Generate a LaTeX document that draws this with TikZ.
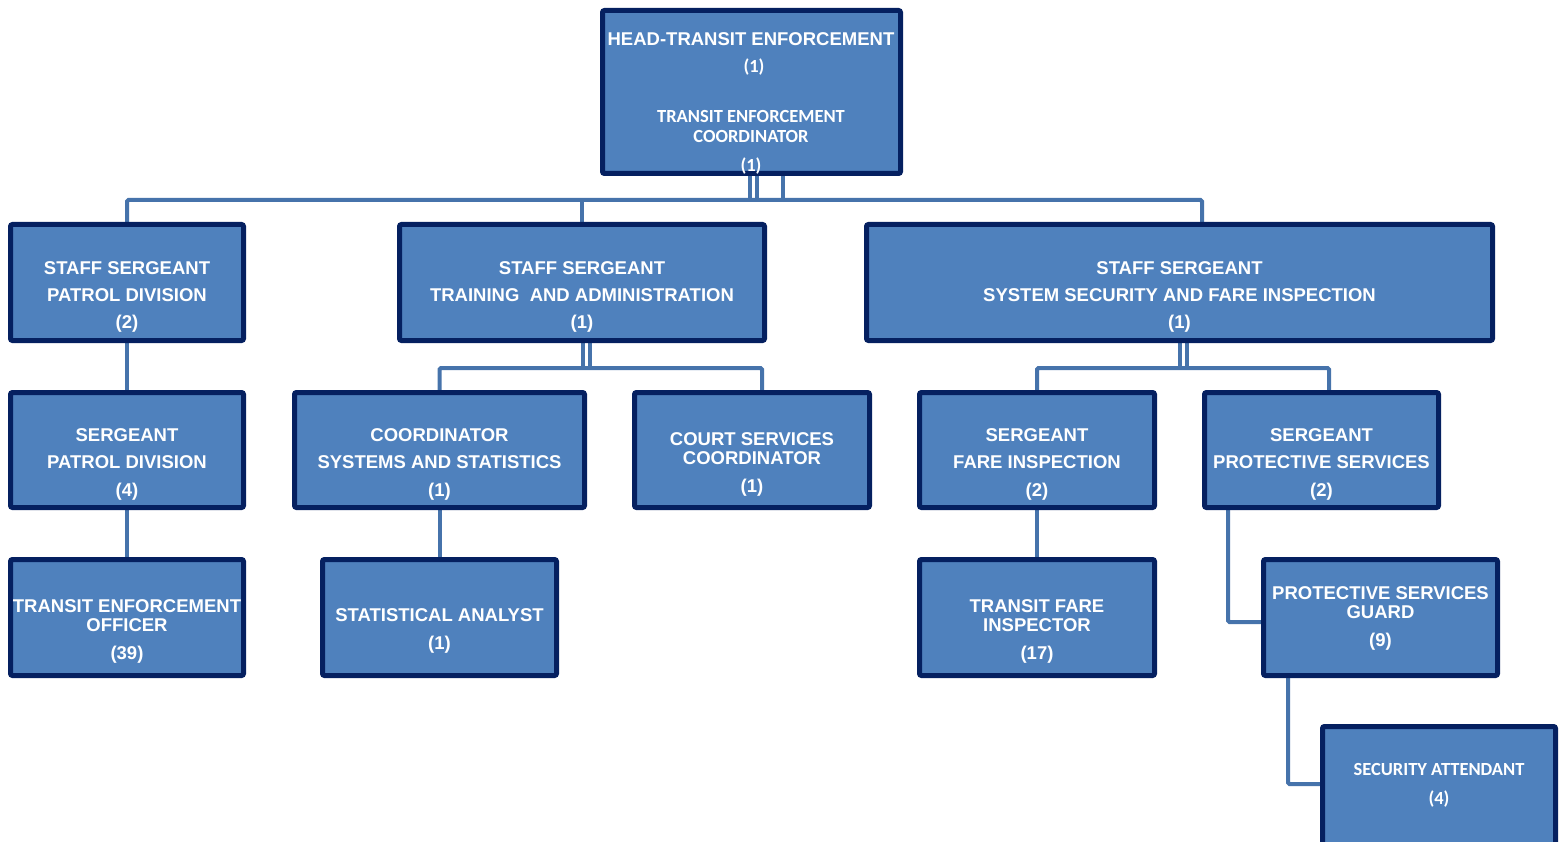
\documentclass[tikz,border=0pt]{standalone}
\usepackage{fontspec}
\newfontfamily\arialfont{Liberation Sans}
\newfontfamily\califont{Carlito}
\usetikzlibrary{backgrounds}
\definecolor{boxfill}{HTML}{4F81BD}
\definecolor{boxline}{HTML}{052060}
\definecolor{connc}{HTML}{4673AB}
\tikzset{
  obox/.style={draw=boxline, fill=boxfill, line width=5pt, rounded corners=2pt, inner sep=0pt},
  txt/.style={anchor=base, inner sep=0pt, text=white, font=\fontsize{18.5}{20}\selectfont\bfseries},
  conn/.style={draw=connc, line width=4pt, rounded corners=1.5pt},
}
\newcommand\obox[5]{\node[obox, minimum width={(#4-#2-5)*1pt}, minimum height={(#5-#3-5)*1pt}] (#1) at ({(#2+#4)/2},{(#3+#5)/2}) {};}
\newcommand\tla[4]{\node[txt] (#1) at (#2,#3+6.6) {\arialfont\bfseries #4};}
\newcommand\tlc[4]{\node[txt] (#1) at (#2,#3+6.0) {\califont\bfseries #4};}
\begin{document}
\begin{tikzpicture}[x=1pt,y=-1pt]
\useasboundingbox (0,0) rectangle (1562,842);
% boxes
\obox{head}{600}{8}{903}{176}
\obox{ssp}{8}{222}{246}{343}
\obox{sst}{397}{222}{767}{343}
\obox{sss}{864}{222}{1495}{343}
\obox{sp}{8}{390}{246}{510}
\obox{css}{292}{390}{587}{510}
\obox{court}{632}{390}{872}{510}
\obox{sfi}{917}{390}{1157}{510}
\obox{sps}{1202}{390}{1441}{510}
\obox{teo}{8}{557}{246}{678}
\obox{stat}{320}{557}{559}{678}
\obox{tfi}{917}{557}{1157}{678}
\obox{psg}{1261}{557}{1500}{678}
\obox{sat}{1320}{724}{1558}{870}
% connectors
\coordinate (hA) at (750,200);
\coordinate (hB) at (757,200);
\coordinate (hC) at (783,200);
\coordinate (sysdrop) at (1202,200);
\coordinate (tA) at (583,368);
\coordinate (tB) at (590,368);
\coordinate (courtdrop) at (762,368);
\coordinate (sA) at (1180,368);
\coordinate (sB) at (1187,368);
\coordinate (psdrop) at (1329,368);
\coordinate (pA) at (1228,622);
\coordinate (gA) at (1288,784);
\begin{pgfonlayer}{background}
\draw[conn] (hA |- head.south) -- (hA);
\draw[conn] (hB |- head.south) -- (hB);
\draw[conn] (hC |- head.south) -- (hC);
\draw[conn] (ssp.north) -- (ssp.north |- hA) -- (sysdrop) -- (sysdrop |- sss.north);
\draw[conn] (sst.north) -- (sst.north |- hA);
\draw[conn] (tA |- sst.south) -- (tA);
\draw[conn] (tB |- sst.south) -- (tB);
\draw[conn] (css.north) -- (css.north |- tA) -- (courtdrop) -- (courtdrop |- court.north);
\draw[conn] (sA |- sss.south) -- (sA);
\draw[conn] (sB |- sss.south) -- (sB);
\draw[conn] (sfi.north) -- (sfi.north |- sA) -- (psdrop) -- (psdrop |- sps.north);
\draw[conn] (ssp.south) -- (sp.north);
\draw[conn] (sp.south) -- (teo.north);
\draw[conn] (css.south) -- (stat.north);
\draw[conn] (sfi.south) -- (tfi.north);
\draw[conn] (pA |- sps.south) -- (pA) -- (pA -| psg.west);
\draw[conn] (gA |- psg.south) -- (gA) -- (gA -| sat.west);
\end{pgfonlayer}
% texts
\tla{head1}{751}{39}{HEAD-TRANSIT ENFORCEMENT}
\tlc{head2}{754}{67}{(1)}
\tlc{head3}{751}{117}{TRANSIT ENFORCEMENT}
\tlc{head4}{751}{137}{COORDINATOR}
\tlc{head5}{751}{166}{(1)}
\tla{ssp1}{127}{268}{STAFF SERGEANT}
\tla{ssp2}{127}{295}{PATROL DIVISION}
\tla{ssp3}{127}{322}{(2)}
\tla{sst1}{582}{268}{STAFF SERGEANT}
\tla{sst2}{582}{295}{TRAINING \ AND ADMINISTRATION}
\tla{sst3}{582}{322}{(1)}
\tla{sss1}{1179.5}{268}{STAFF SERGEANT}
\tla{sss2}{1179.5}{295}{SYSTEM SECURITY AND FARE INSPECTION}
\tla{sss3}{1179.5}{322}{(1)}
\tla{sp1}{127}{435}{SERGEANT}
\tla{sp2}{127}{462}{PATROL DIVISION}
\tla{sp3}{127}{490}{(4)}
\tla{css1}{439.5}{435}{COORDINATOR}
\tla{css2}{439.5}{462}{SYSTEMS AND STATISTICS}
\tla{css3}{439.5}{490}{(1)}
\tla{court1}{752}{439}{COURT SERVICES}
\tla{court2}{752}{458}{COORDINATOR}
\tla{court3}{752}{486}{(1)}
\tla{sfi1}{1037}{435}{SERGEANT}
\tla{sfi2}{1037}{462}{FARE INSPECTION}
\tla{sfi3}{1037}{490}{(2)}
\tla{sps1}{1321.5}{435}{SERGEANT}
\tla{sps2}{1321.5}{462}{PROTECTIVE SERVICES}
\tla{sps3}{1321.5}{490}{(2)}
\tla{teo1}{127}{606}{TRANSIT ENFORCEMENT}
\tla{teo2}{127}{625}{OFFICER}
\tla{teo3}{127}{653}{(39)}
\tla{stat1}{439.5}{615}{STATISTICAL ANALYST}
\tla{stat2}{439.5}{643}{(1)}
\tla{tfi1}{1037}{606}{TRANSIT FARE}
\tla{tfi2}{1037}{625}{INSPECTOR}
\tla{tfi3}{1037}{653}{(17)}
\tla{psg1}{1380.5}{593}{PROTECTIVE SERVICES}
\tla{psg2}{1380.5}{612}{GUARD}
\tla{psg3}{1380.5}{640}{(9)}
\tlc{sat1}{1439}{769}{SECURITY ATTENDANT}
\tlc{sat2}{1439}{798}{(4)}
\end{tikzpicture}
\end{document}
